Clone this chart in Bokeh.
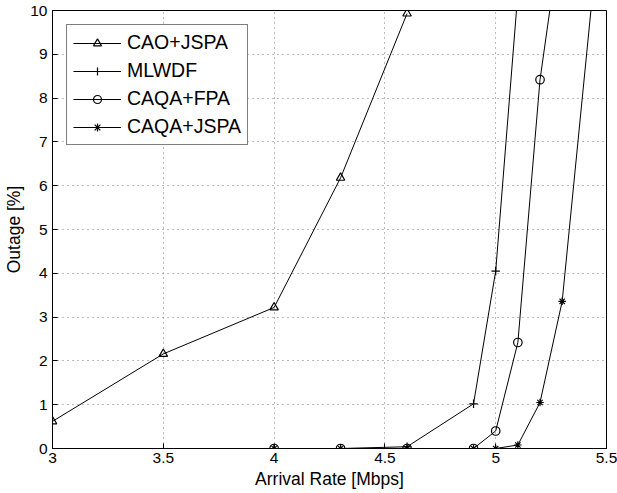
from bokeh.plotting import figure
from bokeh.models import Range1d, FixedTicker, Legend, LegendItem
from bokeh.embed import file_html
from bokeh.resources import INLINE

# Data
cao_x = [3.0, 3.5, 4.0, 4.3, 4.6]
cao_y = [0.62, 2.16, 3.22, 6.18, 9.93]

mlwdf_x = [4.0, 4.3, 4.6, 4.9, 5.0, 5.1]
mlwdf_y = [0.0, 0.0, 0.04, 1.02, 4.05, 10.4]

fpa_x = [4.0, 4.3, 4.6, 4.9, 5.0, 5.1, 5.2, 5.3]
fpa_y = [0.0, 0.0, 0.0, 0.0, 0.4, 2.42, 8.42, 12.0]

jspa_x = [4.0, 4.3, 4.6, 4.9, 5.0, 5.1, 5.2, 5.3, 5.5]
jspa_y = [0.0, 0.0, 0.0, 0.0, 0.0, 0.08, 1.05, 3.36, 13.6]

x_ticks = [3, 3.5, 4, 4.5, 5, 5.5]
x_tick_labels = {3: "3", 3.5: "3.5", 4: "4", 4.5: "4.5", 5: "5", 5.5: "5.5"}
y_ticks = list(range(0, 11))

FONT = "Liberation Sans"

p = figure(width=617, height=493, output_backend="svg", toolbar_location=None,
           x_range=Range1d(3, 5.5), y_range=Range1d(0, 10),
           min_border_left=52, min_border_right=11, min_border_top=10, min_border_bottom=45)
p.background_fill_color = "white"
p.outline_line_color = "black"
p.outline_line_width = 1
p.outline_line_alpha = 1

for ax in (p.xaxis[0], p.yaxis[0]):
    ax.major_label_text_font = FONT
    ax.major_label_text_font_size = "15.5px"
    ax.major_label_text_color = "black"
    ax.axis_label_text_font = FONT
    ax.axis_label_text_font_size = "17.5px"
    ax.axis_label_text_font_style = "normal"
    ax.axis_label_text_color = "black"
    ax.axis_line_color = "black"
    ax.major_tick_line_color = "black"
    ax.major_tick_in = 5
    ax.major_tick_out = 0
    ax.minor_tick_line_color = None

p.xaxis[0].ticker = FixedTicker(ticks=x_ticks)
p.xaxis[0].major_label_overrides = {k: v for k, v in x_tick_labels.items()}
p.yaxis[0].ticker = FixedTicker(ticks=y_ticks)
p.xaxis[0].axis_label = "Arrival Rate [Mbps]"
p.yaxis[0].axis_label = "Outage [%]"
p.yaxis[0].major_label_standoff = 5
p.yaxis[0].axis_label_standoff = 3
p.xaxis[0].major_label_standoff = 4
p.xaxis[0].axis_label_standoff = 3

for g in (p.xgrid[0], p.ygrid[0]):
    g.grid_line_color = "#777777"
    g.grid_line_dash = "1 4"
    g.grid_line_width = 1
p.xgrid[0].ticker = FixedTicker(ticks=x_ticks)
p.ygrid[0].ticker = FixedTicker(ticks=y_ticks)

series = [
    ("CAO+JSPA", cao_x, cao_y, "triangle", 8.5),
    ("MLWDF", mlwdf_x, mlwdf_y, "cross", 8.5),
    ("CAQA+FPA", fpa_x, fpa_y, "circle", 8.5),
    ("CAQA+JSPA", jspa_x, jspa_y, "asterisk", 7.5),
]

items = []
for name, xs, ys, marker, size in series:
    ln = p.line(xs, ys, line_color="black", line_width=1)
    sc = p.scatter(xs, ys, marker=marker, size=size, line_color="black",
                   fill_color=None, line_width=1.2)
    items.append(LegendItem(label=name, renderers=[ln, sc]))

legend = Legend(items=items, location="top_left", margin=14, padding=6,
                spacing=5, glyph_width=48, glyph_height=20, label_height=20,
                label_standoff=6,
                label_text_font=FONT, label_text_font_size="19.5px",
                label_text_color="black", border_line_color="black",
                border_line_width=1, background_fill_color="white",
                background_fill_alpha=1)
p.add_layout(legend, "center")

open("out.html", "w").write(file_html(p, INLINE))
